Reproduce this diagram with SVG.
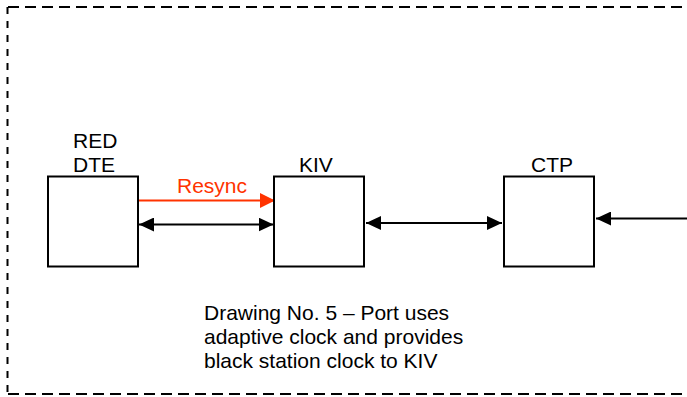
<svg xmlns="http://www.w3.org/2000/svg" width="687" height="397" viewBox="0 0 687 397">
<style>
  .box{fill:#fff;stroke:#000;stroke-width:2}
  .lbl{font-family:"Liberation Sans",Arial,sans-serif;font-size:21px;fill:#000}
  .red{fill:#ff3300}
  .conn{stroke:#000;stroke-width:2;fill:none}
  .rconn{stroke:#ff3300;stroke-width:2;fill:none}
  .frameh{stroke:#000;stroke-width:2;stroke-dasharray:11 6;fill:none}
  .framev{stroke:#000;stroke-width:2;stroke-dasharray:7 7;fill:none}
</style>
<defs>
  <marker id="ah" viewBox="0 0 15 14" refX="15" refY="7" markerWidth="15" markerHeight="14" markerUnits="userSpaceOnUse" orient="auto-start-reverse">
    <path d="M0,0 L15,7 L0,14 Z" fill="#000"/>
  </marker>
  <marker id="ahr" viewBox="0 0 15 15" refX="15" refY="7.5" markerWidth="15" markerHeight="15" markerUnits="userSpaceOnUse" orient="auto">
    <path d="M0,0 L15,7.5 L0,15 Z" fill="#ff3300"/>
  </marker>
</defs>
<g id="frame">
  <line class="frameh" x1="8" y1="7" x2="690" y2="7"/>
  <line class="framev" x1="7.5" y1="7" x2="7.5" y2="394"/>
  <line class="frameh" x1="8" y1="394" x2="690" y2="394"/>
</g>
<g id="connectors">
  <line class="rconn" x1="139" y1="200.5" x2="275" y2="200.5" marker-end="url(#ahr)"/>
  <line class="conn" x1="139" y1="224.5" x2="273.5" y2="224.5" marker-start="url(#ah)" marker-end="url(#ah)"/>
  <line class="conn" x1="366" y1="223" x2="502" y2="223" marker-start="url(#ah)" marker-end="url(#ah)"/>
  <line class="conn" x1="690" y1="218.5" x2="596" y2="218.5" marker-end="url(#ah)"/>
  <text class="lbl red" x="177" y="193">Resync</text>
</g>
<g id="red-dte">
  <rect class="box" x="48" y="176.5" width="90" height="90"/>
  <text class="lbl" x="73" y="147.5">RED</text>
  <text class="lbl" x="73" y="171.5">DTE</text>
</g>
<g id="kiv">
  <rect class="box" x="274" y="176.5" width="90" height="90"/>
  <text class="lbl" x="299" y="171.5">KIV</text>
</g>
<g id="ctp">
  <rect class="box" x="504" y="176.5" width="90" height="90"/>
  <text class="lbl" x="531" y="171.5">CTP</text>
</g>
<g id="caption">
  <text class="lbl" x="204" y="320">Drawing No. 5 – Port uses</text>
  <text class="lbl" x="204" y="344">adaptive clock and provides</text>
  <text class="lbl" x="204" y="368">black station clock to KIV</text>
</g>
</svg>
